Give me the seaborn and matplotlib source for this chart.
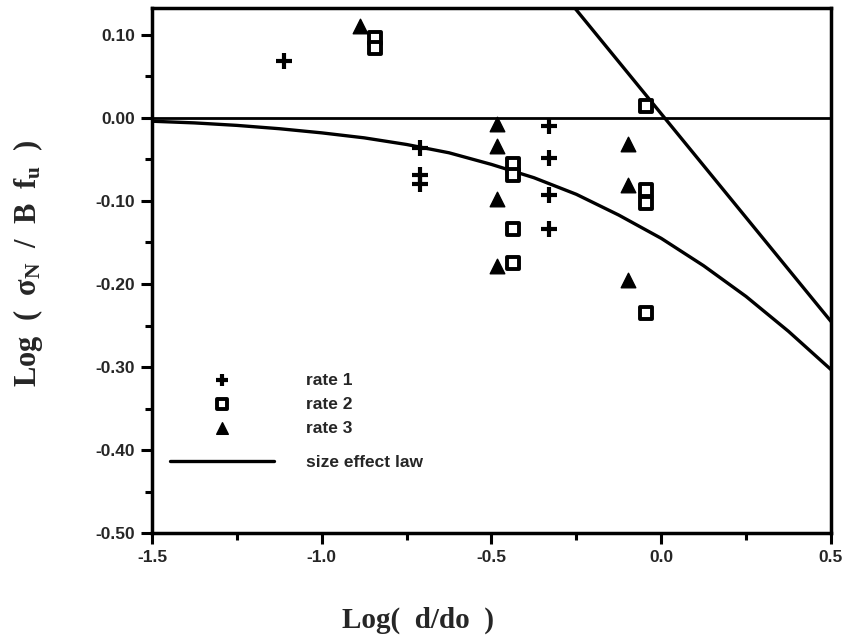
"""
Size effect plot: log nominal strength vs log relative size,
three loading rates against the size effect law.
"""
import numpy as np
import pandas as pd
import matplotlib
matplotlib.use('Agg')
import matplotlib.pyplot as plt
import seaborn as sns
from matplotlib.ticker import MultipleLocator, FormatStrFormatter

rate1_x = [-1.11, -0.71, -0.71, -0.71, -0.33, -0.33, -0.33, -0.33]
rate1_y = [0.068, -0.036, -0.069, -0.080, -0.010, -0.048, -0.093, -0.134]

rate2_x = [-0.843, -0.843, -0.437, -0.437, -0.437, -0.437,
           -0.046, -0.046, -0.046, -0.046]
rate2_y = [0.096, 0.084, -0.056, -0.069, -0.134, -0.175,
           0.014, -0.087, -0.102, -0.235]

rate3_x = [-0.887, -0.485, -0.485, -0.485, -0.485, -0.097, -0.097, -0.097]
rate3_y = [0.111, -0.007, -0.034, -0.098, -0.178, -0.032, -0.081, -0.195]

# size effect law curve
law_x = [-1.5, -1.375, -1.25, -1.125, -1.0, -0.875, -0.75, -0.625, -0.5,
         -0.375, -0.25, -0.125, 0.0, 0.125, 0.25, 0.375, 0.5]
law_y = [-0.004, -0.006, -0.009, -0.013, -0.018, -0.024, -0.032, -0.042,
         -0.056, -0.072, -0.092, -0.117, -0.145, -0.178, -0.215, -0.257,
         -0.303]

# strength criterion asymptote
asym_x = [-0.27, 0.5]
asym_y = [0.14, -0.245]


def main():
    sns.set_style('ticks')
    plt.rcParams['font.family'] = ['Liberation Sans', 'DejaVu Sans']
    plt.rcParams['axes.unicode_minus'] = False
    plt.rcParams['mathtext.fontset'] = 'custom'
    plt.rcParams['mathtext.rm'] = 'Liberation Serif:bold'
    plt.rcParams['mathtext.it'] = 'Liberation Serif:bold'

    fig = plt.figure(figsize=(8.54, 6.37), dpi=100)
    ax = fig.add_axes([0.178, 0.163, 0.795, 0.824])

    lw = 2.4
    ax.axhline(0, color='black', linewidth=2.0, zorder=1)
    sns.lineplot(x=asym_x, y=asym_y, ax=ax, color='black', linewidth=lw,
                 sort=False, estimator=None)
    sns.lineplot(x=law_x, y=law_y, ax=ax, color='black', linewidth=lw,
                 sort=False, estimator=None, label='size effect law')

    sns.scatterplot(x=rate1_x, y=rate1_y, ax=ax, marker='+', color='black',
                    s=120, linewidth=3, label='rate 1', zorder=3)
    sns.scatterplot(x=rate2_x, y=rate2_y, ax=ax, marker='s', color='white',
                    edgecolor='black', s=80, linewidth=2.8, label='rate 2',
                    zorder=3)
    sns.scatterplot(x=rate3_x, y=rate3_y, ax=ax, marker='^', color='black',
                    edgecolor='black', s=110, linewidth=1, label='rate 3',
                    zorder=3)

    ax.set_xlim(-1.5, 0.5)
    ax.set_ylim(-0.5, 0.132)
    ax.xaxis.set_major_locator(MultipleLocator(0.5))
    ax.xaxis.set_minor_locator(MultipleLocator(0.25))
    ax.yaxis.set_major_locator(MultipleLocator(0.1))
    ax.yaxis.set_minor_locator(MultipleLocator(0.05))
    ax.xaxis.set_major_formatter(FormatStrFormatter('%.1f'))
    ax.yaxis.set_major_formatter(FormatStrFormatter('%.2f'))
    ax.tick_params(which='both', direction='out', width=2.2, color='black')
    ax.tick_params(which='major', length=8, labelsize=12.5, pad=4)
    ax.tick_params(which='minor', length=5)
    for lab in ax.get_xticklabels() + ax.get_yticklabels():
        lab.set_fontweight('bold')
    for sp in ax.spines.values():
        sp.set_visible(True)
        sp.set_linewidth(2.5)
        sp.set_color('black')

    ax.set_xlabel('Log(  d/do  )', fontsize=21, fontweight='bold',
                  family='Liberation Serif')
    ax.xaxis.set_label_coords(0.392, -0.14)
    ax.set_ylabel('Log  (  $\\sigma_N$  /  B  $f_u$  )', fontsize=22,
                  fontweight='bold', family='Liberation Serif')
    ax.yaxis.set_label_coords(-0.158, 0.515)

    handles, labels = ax.get_legend_handles_labels()
    lookup = dict(zip(labels, handles))
    legend_kw = dict(loc='upper left', frameon=False, borderpad=0,
                     handlelength=6.0, handletextpad=1.8, labelspacing=0.5,
                     markerscale=0.8, prop={'weight': 'bold', 'size': 12.5})
    rates = ['rate 1', 'rate 2', 'rate 3']
    leg1 = ax.legend([lookup[k] for k in rates], rates,
                     bbox_to_anchor=(0.014, 0.322), **legend_kw)
    ax.add_artist(leg1)
    ax.legend([lookup['size effect law']], ['size effect law'],
              bbox_to_anchor=(0.014, 0.166), **legend_kw)

    fig.savefig('out.png', dpi=100)


if __name__ == '__main__':
    main()
